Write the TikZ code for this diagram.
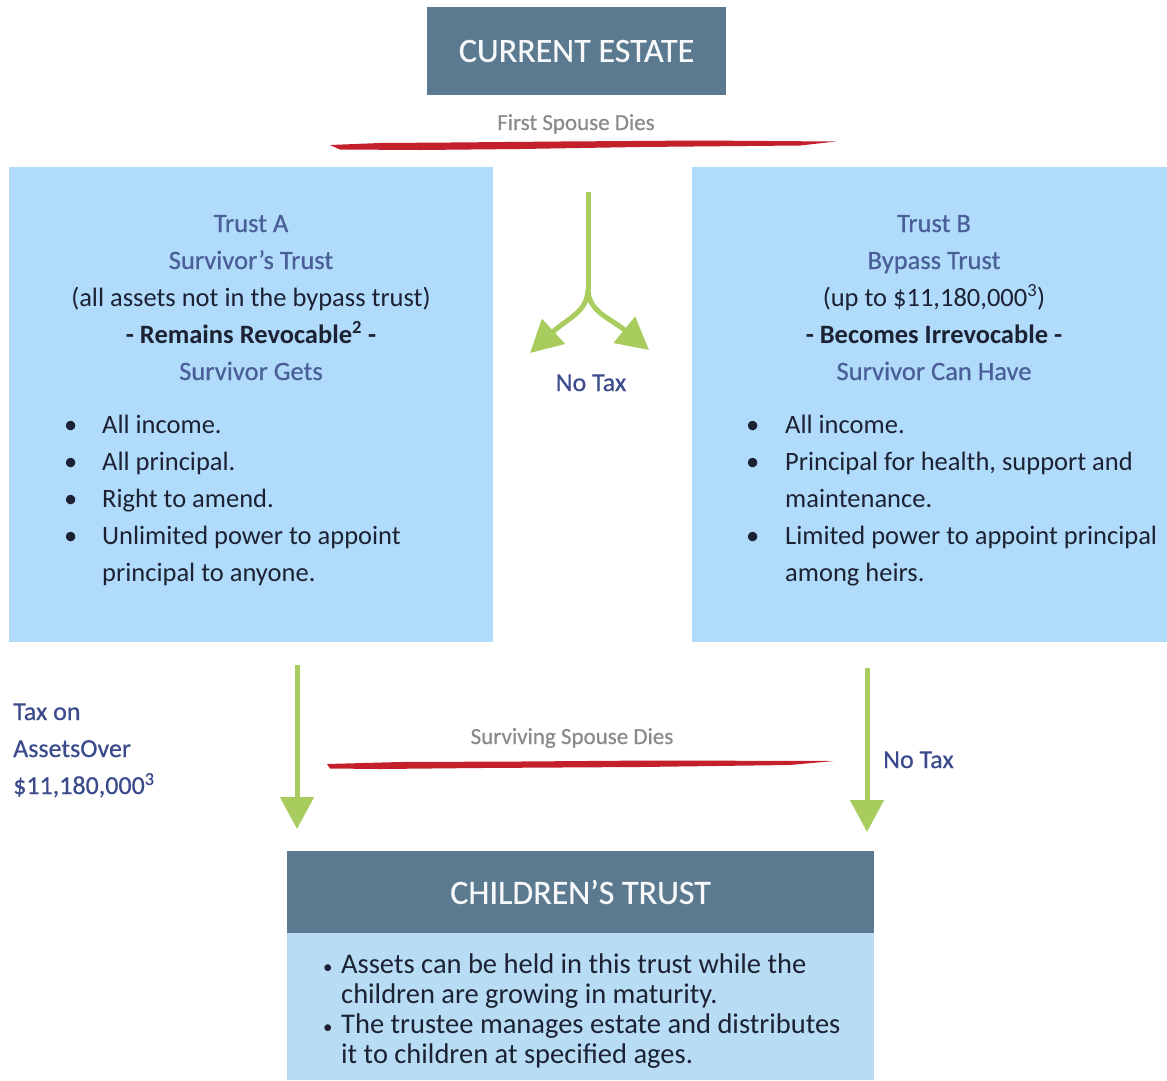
\documentclass[tikz,border=0pt]{standalone}
\usepackage{fontspec}
\setmainfont{Carlito}
\newfontfamily\semi[FakeBold=0.5]{Carlito}
\usetikzlibrary{arrows.meta,positioning}

\definecolor{slate}{HTML}{5B7A90}
\definecolor{paleblue}{HTML}{B1DBFB}
\definecolor{kidsblue}{HTML}{B7DCF4}
\definecolor{headblue}{HTML}{4A5E98}
\definecolor{labelblue}{HTML}{3A4A8A}
\definecolor{leafgreen}{HTML}{A8CC5E}
\definecolor{brushred}{HTML}{C3202C}
\definecolor{deadgray}{HTML}{8A8A8A}
\definecolor{inktext}{HTML}{1C2233}

\newcommand{\smallbul}{{\fontsize{19}{19}\selectfont\textbullet}}

\begin{document}
\begin{tikzpicture}[x=1pt, y=-1pt,
    panel/.style={fill=paleblue, inner sep=0, outer sep=0, anchor=north west},
    slatebox/.style={fill=slate, text=white!95!slate, inner sep=0, outer sep=0, anchor=north west, font=\semi\fontsize{34}{40}\selectfont},
    headtxt/.style={anchor=base, inner sep=0, font=\fontsize{26.5}{37}\selectfont},
    listtxt/.style={anchor=base west, inner sep=0, text=inktext, font=\fontsize{26.5}{37}\selectfont},
    deathtxt/.style={anchor=base, inner sep=0, text=deadgray, font=\semi\fontsize{23}{27}\selectfont},
    taxtxt/.style={inner sep=0, text=labelblue, font=\semi\fontsize{26}{37}\selectfont},
    flowline/.style={color=leafgreen, line width=5pt},
    flow/.style={flowline, -{Triangle[width=33pt,length=32pt]}},
  ]

    \fill[white] (0,0) rectangle (1167,1080);
    \useasboundingbox (0,0) rectangle (1167,1080);

    % current estate
    \node[slatebox, minimum width=299, minimum height=88] (estate) at (427,7) {CURRENT ESTATE};

    % first death
    \node[deathtxt] (firstDies) at (576,130) {First Spouse Dies};
    \fill[brushred] (330,145) -- (380,143) -- (450,142.5) -- (560,141.5) -- (700,140.5) -- (836,141.5)
        -- (800,145.5) -- (640,147) -- (520,149) -- (420,150) -- (340,149.5) -- cycle;

    % trust A
    \node[panel, minimum width=484, minimum height=475] (trustA) at (9,167) {};
    \node[headtxt] (aHead) at (251,232) {\begin{tabular}[t]{@{}c@{}}
        \color{headblue}\semi Trust A\\
        \color{headblue}\semi Survivor’s Trust\\
        \color{inktext}(all assets not in the bypass trust)\\
        \color{inktext}\bfseries - Remains Revocable\textsuperscript{2} -\\
        \color{headblue}\semi Survivor Gets
      \end{tabular}};
    \node[listtxt] (aList) at (64,433) {\begin{tabular}[t]{@{}p{38pt}@{}l@{}}
        \textbullet & All income.\\
        \textbullet & All principal.\\
        \textbullet & Right to amend.\\
        \textbullet & Unlimited power to appoint\\
                    & principal to anyone.
      \end{tabular}};

    % trust B
    \node[panel, minimum width=475, minimum height=475] (trustB) at (692,167) {};
    \node[headtxt] (bHead) at (934,232) {\begin{tabular}[t]{@{}c@{}}
        \color{headblue}\semi Trust B\\
        \color{headblue}\semi Bypass Trust\\
        \color{inktext}(up to \$11,180,000\textsuperscript{3})\\
        \color{inktext}\bfseries - Becomes Irrevocable -\\
        \color{headblue}\semi Survivor Can Have
      \end{tabular}};
    \node[listtxt] (bList) at (746,433) {\begin{tabular}[t]{@{}p{39pt}@{}l@{}}
        \textbullet & All income.\\
        \textbullet & Principal for health, support and\\
                    & maintenance.\\
        \textbullet & Limited power to appoint principal\\
                    & among heirs.
      \end{tabular}};

    % split between the trusts
    \coordinate (forkTop) at (588,192);
    \coordinate (fork) at (588,290);
    \coordinate (forkL) at (530,353);
    \coordinate (forkR) at (649,350);
    \draw[flowline] (forkTop) -- (fork);
    \draw[flow] (fork) .. controls (587,312) and (568,318) .. (forkL);
    \draw[flow] (fork) .. controls (589,312) and (610,318) .. (forkR);
    \node[taxtxt, anchor=base] (noTaxMid) at (591,391) {No Tax};

    % children's trust
    \node[slatebox, minimum width=587, minimum height=82] (kidsHead) at (287,851) {CHILDREN’S TRUST};
    \node[panel, fill=kidsblue, minimum width=587, minimum height=147] (kidsBody) at (287,933) {};
    \node[listtxt, font=\fontsize{28.5}{30}\selectfont] (kidsList) at (323,973) {\begin{tabular}[t]{@{}p{18pt}@{}l@{}}
        \smallbul & Assets can be held in this trust while the\\
                  & children are growing in maturity.\\
        \smallbul & The trustee manages estate and distributes\\
                  & it to children at specified ages.
      \end{tabular}};

    % second death
    \node[deathtxt] (secondDies) at (572,744) {Surviving Spouse Dies};
    \fill[brushred] (327,764) -- (400,762) -- (520,761.5) -- (650,760.5) -- (834,761)
        -- (790,765) -- (640,767) -- (480,768) -- (380,769) -- (330,768.5) -- cycle;

    % down to the children
    \coordinate (aOut) at (297,665);
    \coordinate (bOut) at (867,668);
    \draw[flow, shorten >=22pt] (aOut) -- (aOut |- kidsHead.north);
    \draw[flow, shorten >=19pt] (bOut) -- (bOut |- kidsHead.north);

    \node[taxtxt, anchor=base west] (taxLbl) at (13,720) {\begin{tabular}[t]{@{}l@{}}
        Tax on\\
        AssetsOver\\
        \$11,180,000\textsuperscript{3}
      \end{tabular}};
    \node[taxtxt, anchor=base west] (noTaxB) at (883,768) {No Tax};

\end{tikzpicture}
\end{document}
